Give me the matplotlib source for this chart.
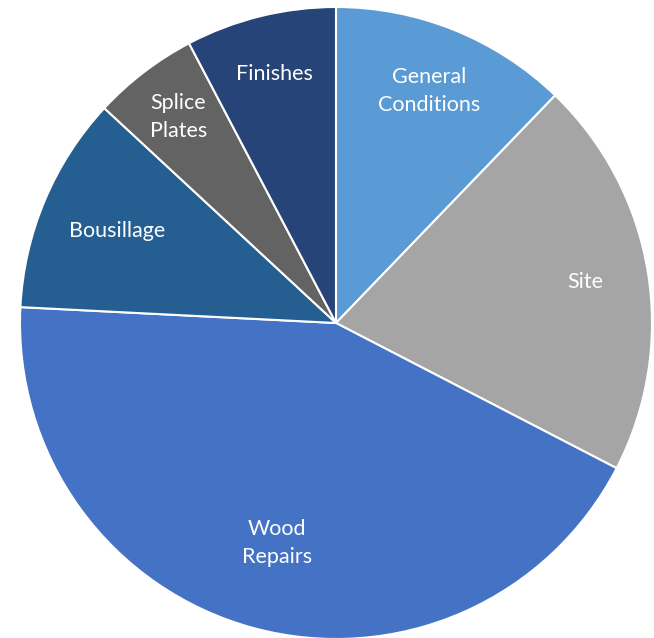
import matplotlib
matplotlib.use("Agg")
import matplotlib.pyplot as plt
import numpy as np

# cost breakdown by work category
categories = ["General\nConditions", "Site", "Wood\nRepairs", "Bousillage", "Splice\nPlates", "Finishes"]
shares = [12.2, 20.4, 43.2, 11.1, 5.4, 7.7]
colors = ["#5B9BD5", "#A5A5A5", "#4472C4", "#255E91", "#636363", "#264478"]

# radial position of each label inside its wedge
label_r = [0.79, 0.80, 0.72, 0.75, 0.82, 0.81]

plt.rcParams['font.family'] = ['Lato', 'DejaVu Sans']

fig = plt.figure(figsize=(6.54, 6.38), dpi=100)
ax = fig.add_axes([20 / 654, -1 / 638, 632 / 654, 632 / 638])

wedges, texts = ax.pie(shares, labels=categories, colors=colors, startangle=90,
                       counterclock=False, labeldistance=1.0,
                       wedgeprops=dict(edgecolor="white", linewidth=1.5),
                       textprops=dict(color="white", fontsize=15.5, ha="center",
                                      va="center", linespacing=1.5))
for w, t, r in zip(wedges, texts, label_r):
    ang = np.deg2rad((w.theta1 + w.theta2) / 2)
    t.set_position((r * np.cos(ang), r * np.sin(ang)))
    t.set_ha("center")

ax.set_xlim(-1, 1)
ax.set_ylim(-1, 1)
ax.set_aspect("equal")

fig.savefig("out.png", dpi=100, facecolor="white")
